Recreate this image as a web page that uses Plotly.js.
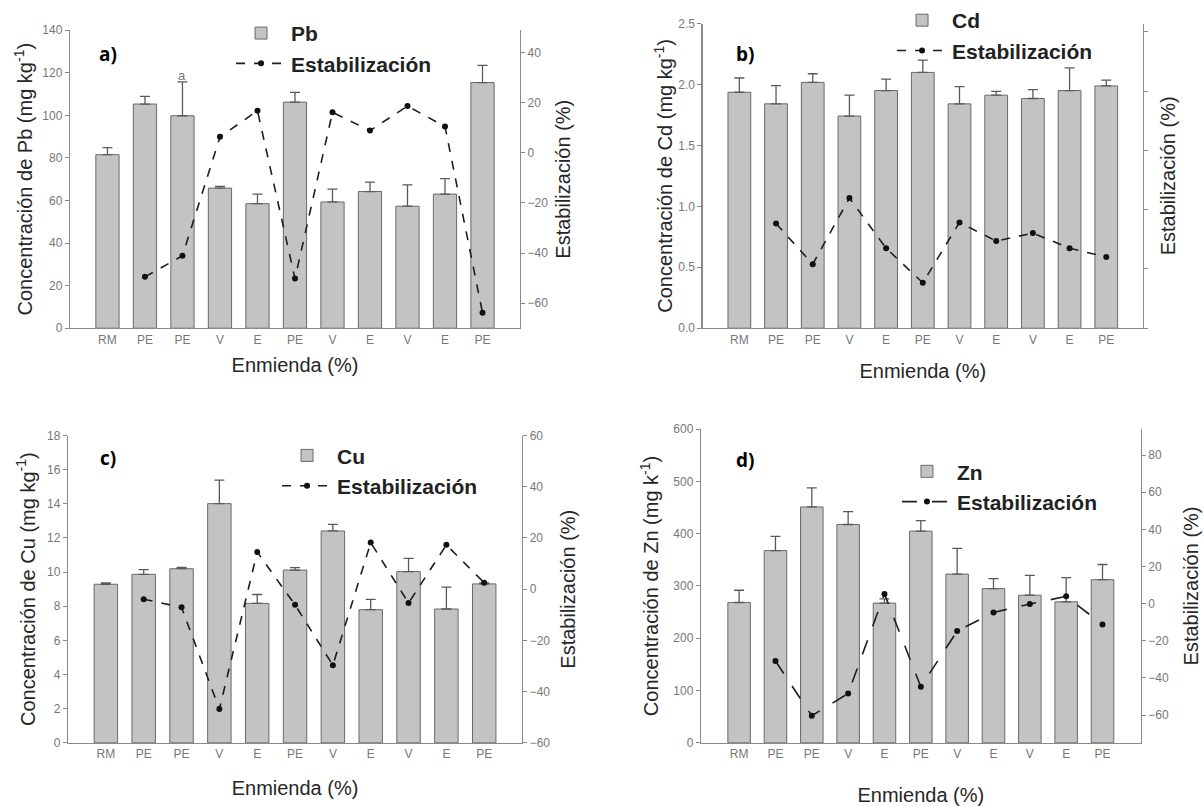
<!DOCTYPE html>
<html><head><meta charset="utf-8">
<script src="https://cdn.plot.ly/plotly-3.0.1.min.js"></script>
<style>html,body{margin:0;padding:0;background:#fff}#chart{width:1204px;height:806px}</style>
</head><body><div id="chart"></div>
<script>
const categories = ['RM','PE','PE','V','E','PE','V','E','V','E','PE'];

const pbConc = [81.5, 105.3, 99.8, 65.8, 58.5, 106.2, 59.3, 64.2, 57.3, 63.0, 115.4];
const pbErr  = [3.3, 3.6, 15.9, 0.8, 4.5, 4.6, 6.0, 4.4, 10.0, 7.3, 8.1];
const pbStab = [null, -49.5, -41.1, 6.4, 16.8, -50.2, 16.2, 8.9, 18.7, 10.5, -63.8];

const cdConc = [1.936, 1.841, 2.017, 1.741, 1.950, 2.099, 1.841, 1.912, 1.885, 1.950, 1.988];
const cdErr  = [0.117, 0.149, 0.071, 0.171, 0.094, 0.100, 0.141, 0.032, 0.073, 0.187, 0.048];
const cdStab = [null, -24.7, -38.4, -16.1, -33.0, -44.7, -24.3, -30.6, -27.9, -33.0, -36.0];

const cuConc = [9.29, 9.87, 10.20, 14.01, 8.17, 10.12, 12.41, 7.80, 10.03, 7.84, 9.31];
const cuErr  = [0.08, 0.27, 0.08, 1.38, 0.52, 0.14, 0.38, 0.60, 0.77, 1.28, 0.06];
const cuStab = [null, -3.9, -7.1, -46.8, 14.5, -6.1, -29.7, 18.2, -5.4, 17.3, 2.5];

const znConc = [268.4, 367.6, 451.0, 417.5, 267.2, 404.8, 322.7, 295.0, 282.3, 269.7, 312.0];
const znErr  = [23.4, 27.1, 36.6, 24.6, 8.0, 20.2, 49.3, 19.0, 37.9, 46.1, 29.0];
const znStab = [null, -30.9, -60.4, -48.4, 5.2, -44.8, -14.8, -4.8, -0.2, 3.9, -11.3];

const xIdx = categories.map((c, i) => i);
const FONT = 'Liberation Sans, Arial, sans-serif';

function panel(name, conc, err, stab, xa, ya, ya2, leg, dash) {
  return [
    {
      type: 'bar', name: name, x: xIdx, y: conc, xaxis: xa, yaxis: ya, legend: leg,
      width: 0.62,
      marker: {color: '#c3c3c3', line: {color: '#6a6a6a', width: 1}},
      error_y: {type: 'data', symmetric: false, array: err, arrayminus: err.map(() => 0),
                color: '#5a5a5a', thickness: 1.3, width: 5},
      hoverinfo: 'y'
    },
    {
      type: 'scatter', mode: 'lines+markers', name: 'Estabilización', x: xIdx, y: stab,
      xaxis: xa, yaxis: ya2, legend: leg,
      line: {color: '#1e1e1e', width: 1.6, dash: dash},
      marker: {color: '#111', size: 6}
    }
  ];
}

const data = [].concat(
  panel('Pb', pbConc, pbErr, pbStab, 'x', 'y', 'y2', 'legend', 'dash'),
  panel('Cd', cdConc, cdErr, cdStab, 'x2', 'y3', 'y4', 'legend2', 'dash'),
  panel('Cu', cuConc, cuErr, cuStab, 'x3', 'y5', 'y6', 'legend3', 'dash'),
  panel('Zn', znConc, znErr, znStab, 'x4', 'y7', 'y8', 'legend4', 'longdash')
);

const titleFont = {family: FONT, size: 20, color: '#262626'};
const tickFont = {family: FONT, size: 12, color: '#777'};

function xAxis(dom, anchor, standoff, range) {
  return {
    domain: dom, anchor: anchor, range: range || [-1, 11],
    tickvals: xIdx, ticktext: categories, ticks: '',
    showline: true, linecolor: '#8a8a8a', linewidth: 1.2,
    showgrid: false, zeroline: false, tickfont: tickFont,
    title: {text: 'Enmienda (%)', font: titleFont, standoff: standoff}
  };
}
function yLeft(dom, anchor, range, dtick, title, standoff, fmt) {
  return {
    domain: dom, anchor: anchor, range: range, dtick: dtick, tick0: 0,
    ticks: 'outside', ticklen: 4, tickcolor: '#8a8a8a',
    showline: true, linecolor: '#8a8a8a', linewidth: 1.2,
    showgrid: false, zeroline: false, tickfont: tickFont, tickformat: fmt || '',
    title: {text: title, font: titleFont, standoff: standoff}
  };
}
function yRight(overlay, anchor, range, tickvals, showLabels, standoff) {
  return {
    overlaying: overlay, anchor: anchor, side: 'right', range: range,
    tickvals: tickvals, showticklabels: showLabels,
    ticks: 'outside', ticklen: 4, tickcolor: '#8a8a8a',
    showline: true, linecolor: '#8a8a8a', linewidth: 1.2,
    showgrid: false, zeroline: false, tickfont: tickFont,
    title: {text: 'Estabilización (%)', font: titleFont, standoff: standoff}
  };
}

const legendFont = {family: FONT, size: 21, color: '#222', weight: 'bold'};
function legendAt(x, y) {
  return {x: x, y: y, xanchor: 'left', yanchor: 'top', font: legendFont,
          bgcolor: 'rgba(0,0,0,0)', borderwidth: 0, itemwidth: 50, traceorder: 'normal'};
}

const panelLabel = (t, x, y) => ({
  text: t, xref: 'paper', yref: 'paper', x: x, y: y, xanchor: 'center', yanchor: 'middle',
  showarrow: false,
  font: {family: 'Open Sans, sans-serif', size: 19, color: '#000', weight: 'bold'}
});

const layout = {
  width: 1204, height: 806,
  margin: {l: 0, r: 0, t: 0, b: 0},
  paper_bgcolor: '#fff', plot_bgcolor: 'rgba(0,0,0,0)',
  font: {family: FONT},
  barmode: 'overlay',
  xaxis:  xAxis([0.0581, 0.4319], 'y', 12),
  yaxis:  yLeft([0.598, 0.971], 'x', [0, 140], 20, 'Concentración de Pb (mg kg<sup>-1</sup>)', 4),
  yaxis2: yRight('y', 'x', [-70, 49], [-60, -40, -20, 0, 20, 40], true, 8),
  xaxis2: xAxis([0.5836, 0.9493], 'y3', 18),
  yaxis3: yLeft([0.598, 0.9793], 'x2', [0, 2.5], 0.5, 'Concentración de Cd (mg kg<sup>-1</sup>)', 0, '.1f'),
  yaxis4: yRight('y3', 'x2', [-60, 42.8], [-60, -40, -20, 0, 20, 40], false, 13),
  xaxis3: xAxis([0.0565, 0.4336], 'y5', 20),
  yaxis5: yLeft([0.079, 0.4637], 'x3', [0, 18], 2, 'Concentración de Cu (mg kg<sup>-1</sup>)', 6),
  yaxis6: yRight('y5', 'x3', [-60, 60], [-60, -40, -20, 0, 20, 40, 60], true, 11),
  xaxis4: xAxis([0.5822, 0.9474], 'y7', 30, [-1.05, 11.05]),
  yaxis7: yLeft([0.079, 0.4718], 'x4', [0, 600], 100, 'Concentración de Zn (mg k<sup>-1</sup>)', 9),
  yaxis8: yRight('y7', 'x4', [-75, 94], [-60, -40, -20, 0, 20, 40, 60, 80], true, 16),
  legend:  legendAt(0.1919, 0.9926),
  legend2: legendAt(0.7409, 1.0087),
  legend3: legendAt(0.2301, 0.464),
  legend4: legendAt(0.745, 0.4441),
  annotations: [
    panelLabel('a)', 0.0897, 0.9417),
    panelLabel('b)', 0.6188, 0.9417),
    panelLabel('c)', 0.0897, 0.4355),
    panelLabel('d)', 0.6188, 0.433),
    {text: 'a', xref: 'x', yref: 'y', x: 2, y: 118.5, showarrow: false,
     font: {family: FONT, size: 13, color: '#777'}}
  ],
  showlegend: true
};

Plotly.newPlot('chart', data, layout, {staticPlot: true, displayModeBar: false});
</script>
</body></html>
